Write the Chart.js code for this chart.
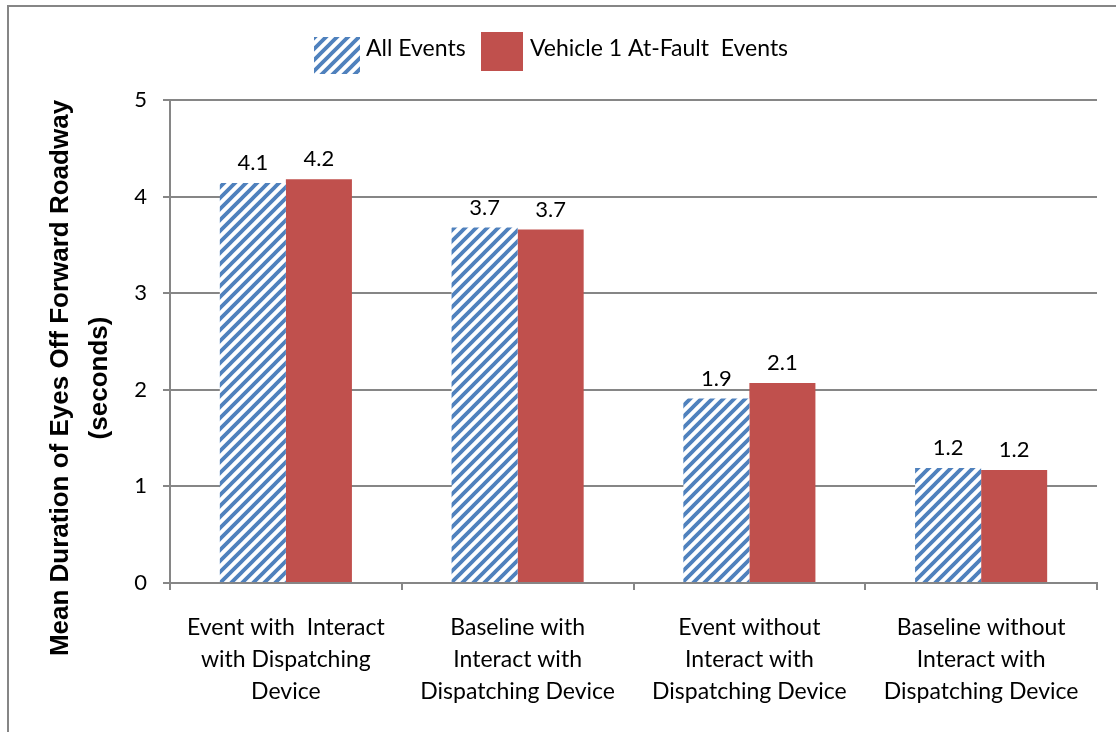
<!DOCTYPE html>
<html>
<head>
    <title>Mean Duration of Eyes Off Forward Roadway</title>
    <script src="https://cdn.jsdelivr.net/npm/chart.js"></script>
    <style>
        html, body { margin: 0; padding: 0; background: #fff; }
        #wrap { width: 1116px; height: 732px; position: relative; }
    </style>
</head>
<body>
    <div id="wrap"><canvas id="eyesChart"></canvas></div>
    <script>
        // values
        const categories = [
            ['Event with  Interact', 'with Dispatching', 'Device'],
            ['Baseline with', 'Interact with', 'Dispatching Device'],
            ['Event without', 'Interact with', 'Dispatching Device'],
            ['Baseline without', 'Interact with', 'Dispatching Device']
        ];
        const allEvents = [4.14, 3.68, 1.91, 1.19];
        const atFaultEvents = [4.18, 3.66, 2.07, 1.17];
        const seriesNames = ['All Events', 'Vehicle 1 At-Fault  Events'];
        const yTicks = [0, 1, 2, 3, 4, 5];

        const LABEL_FONT = 'Lato, "Open Sans", sans-serif';
        const AXIS_GREY = '#868686';

        // blue diagonal hatch
        const makeHatch = () => {
            const s = 11;
            const c = document.createElement('canvas');
            c.width = s; c.height = s;
            const g = c.getContext('2d');
            g.fillStyle = '#ffffff';
            g.fillRect(0, 0, s, s);
            g.strokeStyle = '#4f81bd';
            g.lineWidth = 3.8;
            g.beginPath();
            g.moveTo(-3, s + 3); g.lineTo(s + 3, -3);
            g.moveTo(-4, 4); g.lineTo(4, -4);
            g.moveTo(s - 4, s + 4); g.lineTo(s + 4, s - 4);
            g.stroke();
            return g.createPattern(c, 'repeat');
        };
        const hatch = makeHatch();

        // frame, legend, y title and value labels
        const extras = {
            id: 'extras',
            beforeDraw(chart) {
                const ctx = chart.ctx;
                ctx.save();
                ctx.strokeStyle = AXIS_GREY;
                ctx.lineWidth = 2;
                ctx.beginPath();
                ctx.moveTo(8, 732); ctx.lineTo(8, 6); ctx.lineTo(1116, 6);
                ctx.stroke();
                ctx.restore();
            },
            afterDraw(chart) {
                const ctx = chart.ctx;
                const ds = chart.data.datasets;

                // legend
                ctx.save();
                ctx.fillStyle = ds[0].backgroundColor;
                ctx.fillRect(314, 37, 46, 37);
                ctx.fillStyle = ds[1].backgroundColor;
                ctx.fillRect(481, 32, 42, 39);
                ctx.fillStyle = '#000';
                ctx.font = '23px ' + LABEL_FONT;
                ctx.textBaseline = 'middle';
                ctx.textAlign = 'left';
                ctx.fillText(seriesNames[0], 366, 49);
                ctx.fillText(seriesNames[1], 530, 49);
                ctx.restore();

                // y title
                ctx.save();
                ctx.fillStyle = '#000';
                ctx.font = 'bold 26px "Liberation Sans", Arial, sans-serif';
                ctx.textAlign = 'center';
                ctx.textBaseline = 'middle';
                ctx.translate(61, 378);
                ctx.rotate(-Math.PI / 2);
                ctx.fillText('Mean Duration of Eyes Off Forward Roadway', 0, 0);
                ctx.fillText('(seconds)', 0, 39);
                ctx.restore();

                // value labels
                ctx.save();
                ctx.font = '22px ' + LABEL_FONT;
                ctx.fillStyle = '#000';
                ctx.textAlign = 'center';
                ctx.textBaseline = 'bottom';
                ds.forEach((set, i) => {
                    chart.getDatasetMeta(i).data.forEach((bar, j) => {
                        ctx.fillText(set.data[j].toFixed(1), bar.x, bar.y - 9);
                    });
                });
                ctx.restore();
            }
        };

        new Chart(document.getElementById('eyesChart'), {
            type: 'bar',
            data: {
                labels: categories,
                datasets: [
                    {
                        label: seriesNames[0],
                        data: allEvents,
                        backgroundColor: hatch,
                        borderWidth: 0
                    },
                    {
                        label: seriesNames[1],
                        data: atFaultEvents,
                        backgroundColor: '#c0504d',
                        borderWidth: 0
                    }
                ]
            },
            options: {
                responsive: true,
                maintainAspectRatio: false,
                animation: false,
                categoryPercentage: 0.57,
                barPercentage: 1.0,
                layout: { padding: { left: 100, right: 19, top: 100, bottom: 0 } },
                plugins: {
                    legend: { display: false },
                    tooltip: { enabled: false }
                },
                scales: {
                    x: {
                        grid: {
                            drawOnChartArea: false,
                            drawTicks: true,
                            tickLength: 7,
                            color: AXIS_GREY,
                            lineWidth: 2
                        },
                        border: { color: AXIS_GREY, width: 2 },
                        ticks: {
                            color: '#000',
                            padding: 22,
                            maxRotation: 0,
                            autoSkip: false,
                            font: { family: LABEL_FONT, size: 23, lineHeight: '32px' }
                        },
                        afterFit(scale) { scale.height = 149; }
                    },
                    y: {
                        min: 0,
                        max: 5,
                        afterBuildTicks(scale) { scale.ticks = yTicks.map(v => ({ value: v })); },
                        grid: {
                            color: AXIS_GREY,
                            lineWidth: 2,
                            tickLength: 7
                        },
                        border: { color: AXIS_GREY, width: 2 },
                        ticks: {
                            color: '#000',
                            padding: 16,
                            font: { family: LABEL_FONT, size: 22 }
                        },
                        afterFit(scale) { scale.width = 70; }
                    }
                }
            },
            plugins: [extras]
        });
    </script>
</body>
</html>
